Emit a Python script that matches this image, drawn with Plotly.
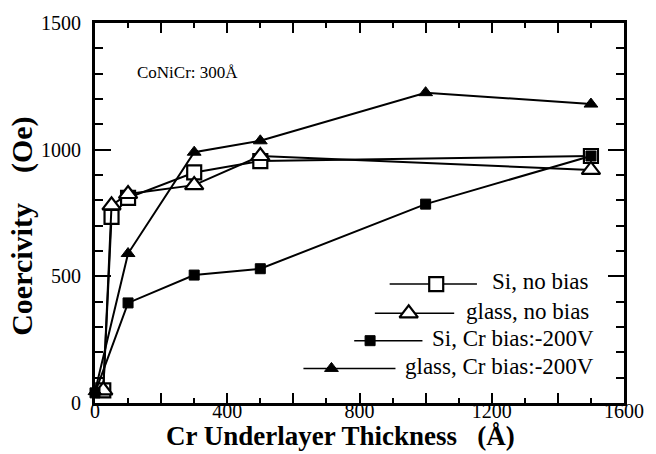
import plotly.graph_objects as go

# ---- data ----
x_si_nobias = [25, 50, 100, 300, 500, 1500]
y_si_nobias = [50, 735, 810, 910, 955, 975]

x_gl_nobias = [25, 50, 100, 300, 500, 1500]
y_gl_nobias = [50, 780, 825, 860, 975, 920]

x_si_bias = [0, 100, 300, 500, 1000, 1500]
y_si_bias = [40, 395, 505, 530, 785, 975]

x_gl_bias = [0, 100, 300, 500, 1000, 1500]
y_gl_bias = [45, 590, 990, 1035, 1225, 1180]

series_names = ["Si, no bias", "glass, no bias", "Si, Cr bias:-200V", "glass, Cr bias:-200V"]

x_tickvals = [0, 200, 400, 600, 800, 1000, 1200, 1400, 1600]
x_ticktext = ["0", "", "400", "", "800", "", "1200", "", "1600"]
y_tickvals = [0, 500, 1000, 1500]
y_ticktext = ["0", "500", "1000", "1500"]

FONT = "Liberation Serif"

open_sq = dict(symbol="square", size=14, color="white", line=dict(color="black", width=2.2))
open_tri = dict(symbol="triangle-up", size=16, color="white", line=dict(color="black", width=2.2))
fill_sq = dict(symbol="square", size=10, color="black", line=dict(color="black", width=1))
fill_tri = dict(symbol="triangle-up", size=12, color="black", line=dict(color="black", width=1))

fig = go.Figure()

def add_series(x, y, marker, name):
    fig.add_trace(go.Scatter(x=x, y=y, mode="lines+markers", name=name,
                             line=dict(color="black", width=2), marker=marker,
                             cliponaxis=False, showlegend=False))

add_series(x_si_nobias, y_si_nobias, open_sq, series_names[0])
add_series(x_gl_nobias, y_gl_nobias, open_tri, series_names[1])
add_series(x_si_bias, y_si_bias, fill_sq, series_names[2])
add_series(x_gl_bias, y_gl_bias, fill_tri, series_names[3])

# ---- hand-drawn legend on a hidden overlay axis (0..1 over the plot area) ----
leg_rows = [
    # (line x0, line x1, marker x, y, marker)
    (0.557, 0.722, 0.645, 0.313, open_sq),
    (0.529, 0.679, 0.593, 0.236, open_tri),
    (0.49, 0.619, 0.52, 0.164, fill_sq),
    (0.394, 0.568, 0.447, 0.091, fill_tri),
]
text_right = [0.938, 0.938, 0.948, 0.948]
for (x0, x1, xm, yy, mk), name, tx in zip(leg_rows, series_names, text_right):
    fig.add_trace(go.Scatter(x=[x0, x1], y=[yy, yy], mode="lines", xaxis="x2", yaxis="y2",
                             line=dict(color="black", width=1.5), showlegend=False, hoverinfo="skip"))
    fig.add_trace(go.Scatter(x=[xm], y=[yy], mode="markers", xaxis="x2", yaxis="y2",
                             marker=mk, showlegend=False, hoverinfo="skip", cliponaxis=False))
    fig.add_annotation(x=tx, y=yy + 0.006, xref="paper", yref="paper", text=name,
                       showarrow=False, xanchor="right", yanchor="middle",
                       font=dict(family=FONT, size=23, color="black"))

fig.add_annotation(x=0.075, y=0.87, xref="paper", yref="paper", text="CoNiCr: 300Å",
                   showarrow=False, xanchor="left", yanchor="middle",
                   font=dict(family=FONT, size=17, color="black"))

# axis titles
fig.add_annotation(x=0.465, y=-0.088, xref="paper", yref="paper",
                   text="<b>Cr Underlayer Thickness&nbsp;&nbsp;&nbsp;(Å)</b>", showarrow=False,
                   xanchor="center", yanchor="middle",
                   font=dict(family=FONT, size=27, color="black"))
fig.add_annotation(x=-0.137, y=0.465, xref="paper", yref="paper",
                   text="<b>Coercivity&nbsp;&nbsp;&nbsp;&nbsp;(Oe)</b>", showarrow=False,
                   textangle=-90, xanchor="center", yanchor="middle",
                   font=dict(family=FONT, size=30, color="black"))

axis_common = dict(showline=True, linewidth=3, linecolor="black", mirror="allticks",
                   ticks="inside", tickwidth=2, tickcolor="black", showgrid=False,
                   zeroline=False, tickfont=dict(family=FONT, size=20, color="black"))

fig.update_layout(
    width=656, height=454,
    margin=dict(l=95, r=28, t=20, b=51),
    paper_bgcolor="white", plot_bgcolor="white",
    xaxis=dict(range=[0, 1600], tickmode="array", tickvals=x_tickvals, ticktext=x_ticktext,
               ticklen=10, ticklabelstandoff=-12,
               minor=dict(dtick=100, ticklen=5, tickwidth=2, ticks="inside", tickcolor="black"),
               **axis_common),
    yaxis=dict(range=[0, 1500], tickmode="array", tickvals=y_tickvals, ticktext=y_ticktext,
               ticklen=16, ticklabelstandoff=7,
               minor=dict(dtick=100, ticklen=8, tickwidth=2, ticks="inside", tickcolor="black"),
               **axis_common),
    xaxis2=dict(range=[0, 1], overlaying="x", visible=False, fixedrange=True),
    yaxis2=dict(range=[0, 1], overlaying="y", visible=False, fixedrange=True),
    showlegend=False,
)

# remove the default page margin so the figure sits at the window's top-left corner
fig.write_html("out.html", config={"displayModeBar": False},
               post_script="document.body.style.margin='0';")
